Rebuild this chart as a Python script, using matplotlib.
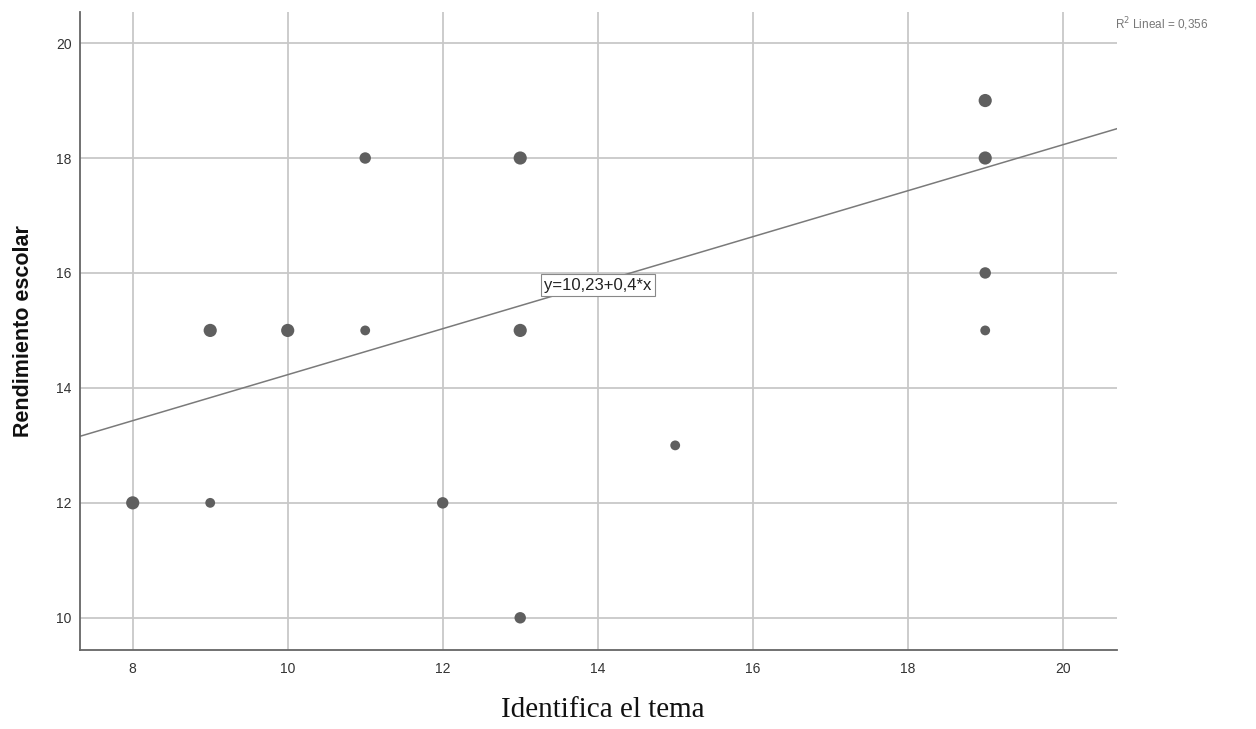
import matplotlib
matplotlib.use("Agg")
import matplotlib.pyplot as plt
import numpy as np

# datos (SPSS)
identifica = [8, 9, 9, 10, 11, 11, 12, 13, 13, 13, 15, 19, 19, 19, 19]
rendimiento = [12, 15, 12, 15, 18, 15, 12, 18, 15, 10, 13, 19, 18, 16, 15]
casos = [3, 3, 1, 3, 2, 1, 2, 3, 3, 2, 1, 3, 3, 2, 1]

intercepto = 10.23
pendiente = 0.4
r2_texto = "R$^2$ Lineal = 0,356"
eq_texto = "y=10,23+0,4*x"

xlim = (7.32, 20.70)
ylim = (9.44, 20.54)
xticks = [8, 10, 12, 14, 16, 18, 20]
yticks = [10, 12, 14, 16, 18, 20]

plt.rcParams['font.family'] = ['Liberation Sans', 'DejaVu Sans']

fig = plt.figure(figsize=(12.56, 7.29), dpi=100)
ax = fig.add_axes([0.0637, 0.1084, 0.8256, 0.8751])

ax.set_xlim(*xlim)
ax.set_ylim(*ylim)
ax.set_xticks(xticks)
ax.set_yticks(yticks)
ax.grid(True, color="#c8c8c8", linewidth=1.3)
ax.set_axisbelow(True)
ax.tick_params(length=0, labelsize=10, labelcolor="#333333")
ax.tick_params(axis="x", pad=9)
ax.tick_params(axis="y", pad=6)

for s in ["top", "right"]:
    ax.spines[s].set_visible(False)
for s in ["left", "bottom"]:
    ax.spines[s].set_color("#666666")
    ax.spines[s].set_linewidth(1.3)

tam = {1: 50, 2: 68, 3: 90}
ax.scatter(identifica, rendimiento, s=[tam[c] for c in casos],
           color="#5f5f5f", edgecolors="none", zorder=3)

xs = np.array(xlim)
ax.plot(xs, intercepto + pendiente * xs, color="#7a7a7a", linewidth=1.1, zorder=2)

ax.text(14.0, 15.79, eq_texto, ha="center", va="center", fontsize=12,
        color="#222222", zorder=4,
        bbox=dict(boxstyle="square,pad=0.2", facecolor="white",
                  edgecolor="#888888", linewidth=0.8))

fig.text(0.925, 0.967, r2_texto, ha="center", va="center", fontsize=8.5,
         color="#777777")

fig.text(0.019, 0.546, "Rendimiento escolar", rotation=90, ha="center",
         va="center", fontsize=15.5, fontweight="bold", color="#111111")
fig.text(0.48, 0.026, "Identifica el tema", ha="center", va="center",
         fontsize=21, family="Liberation Serif", color="#111111")

fig.savefig("out.png", dpi=100)
